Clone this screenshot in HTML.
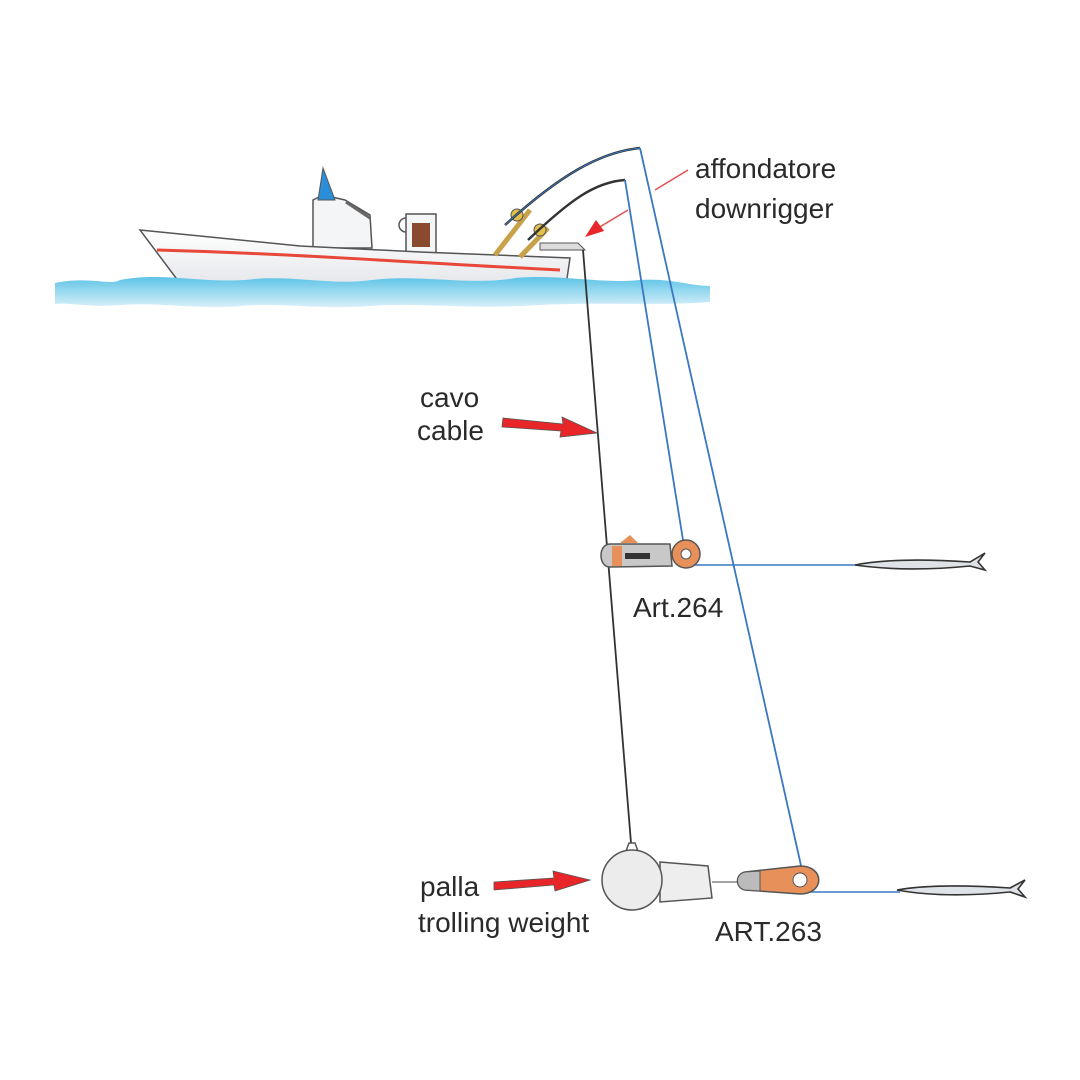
<!DOCTYPE html>
<html><head><meta charset="utf-8"><style>
html,body{margin:0;padding:0;background:#fff;width:1080px;height:1080px;overflow:hidden}
svg text{font-family:"Liberation Sans",Arial,sans-serif;fill:#2a2a2a}
</style></head><body>
<svg width="1080" height="1080" viewBox="0 0 1080 1080" xmlns="http://www.w3.org/2000/svg">
<defs>
<linearGradient id="w" x1="0" y1="0" x2="0" y2="1"><stop offset="0" stop-color="#5ec3e6"/><stop offset="1" stop-color="#d8f0f9"/></linearGradient>
<linearGradient id="h" x1="0" y1="0" x2="0" y2="1"><stop offset="0" stop-color="#ffffff"/><stop offset="1" stop-color="#e2e4e8"/></linearGradient>
</defs>
<!-- boat -->
<path d="M313,200 L323,195 L345,200 L370,215 L372,248 L313,248 Z" fill="#f4f5f7" stroke="#555" stroke-width="1.5"/>
<path d="M323,168 L318,200 L335,200 Z" fill="#2a8fd8" stroke="#555" stroke-width="1"/>
<line x1="346" y1="202" x2="370" y2="218" stroke="#666" stroke-width="3"/>
<rect x="406" y="214" width="30" height="40" fill="#f4f5f7" stroke="#555" stroke-width="1.5"/>
<path d="M406,218 a6,6 0 0 0 0,14" fill="none" stroke="#555" stroke-width="1.5"/>
<rect x="412" y="223" width="18" height="24" fill="#8a4a30"/>
<path d="M140,230 L300,246 L420,252 L520,256 L570,258 L565,292 L185,290 Z" fill="url(#h)" stroke="#555" stroke-width="1.5"/>
<path d="M157,250 C300,254 400,262 560,270" fill="none" stroke="#e8483a" stroke-width="3"/>
<!-- rods -->
<line x1="495" y1="255" x2="530" y2="210" stroke="#c8a24a" stroke-width="5"/>
<line x1="520" y1="257" x2="548" y2="228" stroke="#c8a24a" stroke-width="5"/>
<circle cx="517" cy="215" r="6" fill="#e3c04a" stroke="#555"/>
<circle cx="540" cy="230" r="6" fill="#e3c04a" stroke="#555"/>
<path d="M505,225 C560,175 600,152 640,148" fill="none" stroke="#333" stroke-width="2.5"/>
<path d="M528,240 C570,200 595,182 625,180" fill="none" stroke="#333" stroke-width="2.5"/>
<path d="M505,225 C560,175 600,152 640,148" fill="none" stroke="#3a78c0" stroke-width="1"/>
<path d="M540,243 L578,243 L585,250 L540,250 Z" fill="#ddd" stroke="#555"/>
<!-- water -->
<path d="M55,283 C90,276 110,286 120,280 C160,272 200,283 245,280 C290,274 330,286 372,280 C420,274 470,286 515,278 C560,274 600,284 640,280 C670,278 690,286 710,286 L710,302 C660,306 600,302 540,305 C470,310 420,302 370,306 C320,310 280,302 240,306 C200,310 160,302 120,305 C90,308 70,302 55,304 Z" fill="url(#w)"/>
<!-- cable -->
<line x1="583" y1="250" x2="631" y2="843" stroke="#333" stroke-width="1.8"/>
<!-- blue lines -->
<line x1="625" y1="180" x2="683" y2="540" stroke="#3a78c0" stroke-width="1.8"/>
<line x1="640" y1="148" x2="802" y2="870" stroke="#3a78c0" stroke-width="1.8"/>
<line x1="690" y1="565" x2="860" y2="565" stroke="#3a78c0" stroke-width="1.5"/>
<line x1="810" y1="892" x2="900" y2="892" stroke="#3a78c0" stroke-width="1.5"/>
<!-- Art.264 -->
<path d="M610,544 L670,544 L672,566 L610,567 C598,567 598,544 610,544 Z" fill="#c8c8c8" stroke="#555" stroke-width="1.5"/>
<rect x="612" y="546" width="10" height="20" fill="#e8905a"/>
<path d="M620,543 l10,-8 l8,8 z" fill="#e8905a"/>
<rect x="625" y="553" width="25" height="6" fill="#333"/>
<circle cx="686" cy="554" r="14" fill="#e8905a" stroke="#555" stroke-width="1.5"/>
<circle cx="686" cy="554" r="5" fill="#fff" stroke="#555"/>
<!-- fish 1 -->
<path d="M855,565 C890,558 940,560 970,562 L985,553 L978,562 L985,570 L970,566 C930,570 890,570 855,565 Z" fill="#dfe2e6" stroke="#333" stroke-width="1.6"/>
<!-- ball -->
<path d="M660,862 L708,866 L712,898 L660,902 Z" fill="#eee" stroke="#555" stroke-width="1.5"/>
<circle cx="632" cy="880" r="30" fill="#ececec" stroke="#555" stroke-width="1.5"/>
<path d="M626,851 L629,843 L635,843 L638,851" fill="none" stroke="#555" stroke-width="1.5"/>
<line x1="712" y1="882" x2="740" y2="882" stroke="#444"/>
<!-- Art.263 -->
<path d="M745,872 L800,866 C825,866 825,894 800,894 L745,890 C735,888 735,874 745,872 Z" fill="#e8905a" stroke="#555" stroke-width="1.5"/>
<path d="M745,872 L760,871 L760,891 L745,890 C735,888 735,874 745,872 Z" fill="#bbb" stroke="#555"/>
<circle cx="800" cy="880" r="7" fill="#fff" stroke="#555"/>
<!-- fish 2 -->
<path d="M897,890 C930,884 980,886 1010,888 L1025,880 L1018,889 L1025,897 L1010,892 C970,896 930,896 897,890 Z" fill="#dfe2e6" stroke="#333" stroke-width="1.6"/>
<!-- red arrows -->
<line x1="655" y1="190" x2="688" y2="170" stroke="#e05050" stroke-width="1.5"/>
<line x1="628" y1="210" x2="598" y2="228" stroke="#e05050" stroke-width="1.5"/>
<path d="M585,237 L604,231 L596,220 Z" fill="#e8262a"/>
<path d="M503,418 L563,424 L562,417 L597,433 L560,437 L561,431 L502,427 Z" fill="#e8262a" stroke="#555" stroke-width="0.8"/>
<path d="M494,882 L554,878 L553,871 L590,880 L555,891 L554,885 L494,890 Z" fill="#e8262a" stroke="#555" stroke-width="0.8"/>
<!-- labels -->
<text x="695" y="178" font-size="28">affondatore</text>
<text x="695" y="218" font-size="28">downrigger</text>
<text x="420" y="407" font-size="28">cavo</text>
<text x="417" y="440" font-size="28">cable</text>
<text x="633" y="617" font-size="28">Art.264</text>
<text x="420" y="896" font-size="28">palla</text>
<text x="418" y="932" font-size="28">trolling weight</text>
<text x="715" y="941" font-size="28">ART.263</text>
</svg>
</body></html>
